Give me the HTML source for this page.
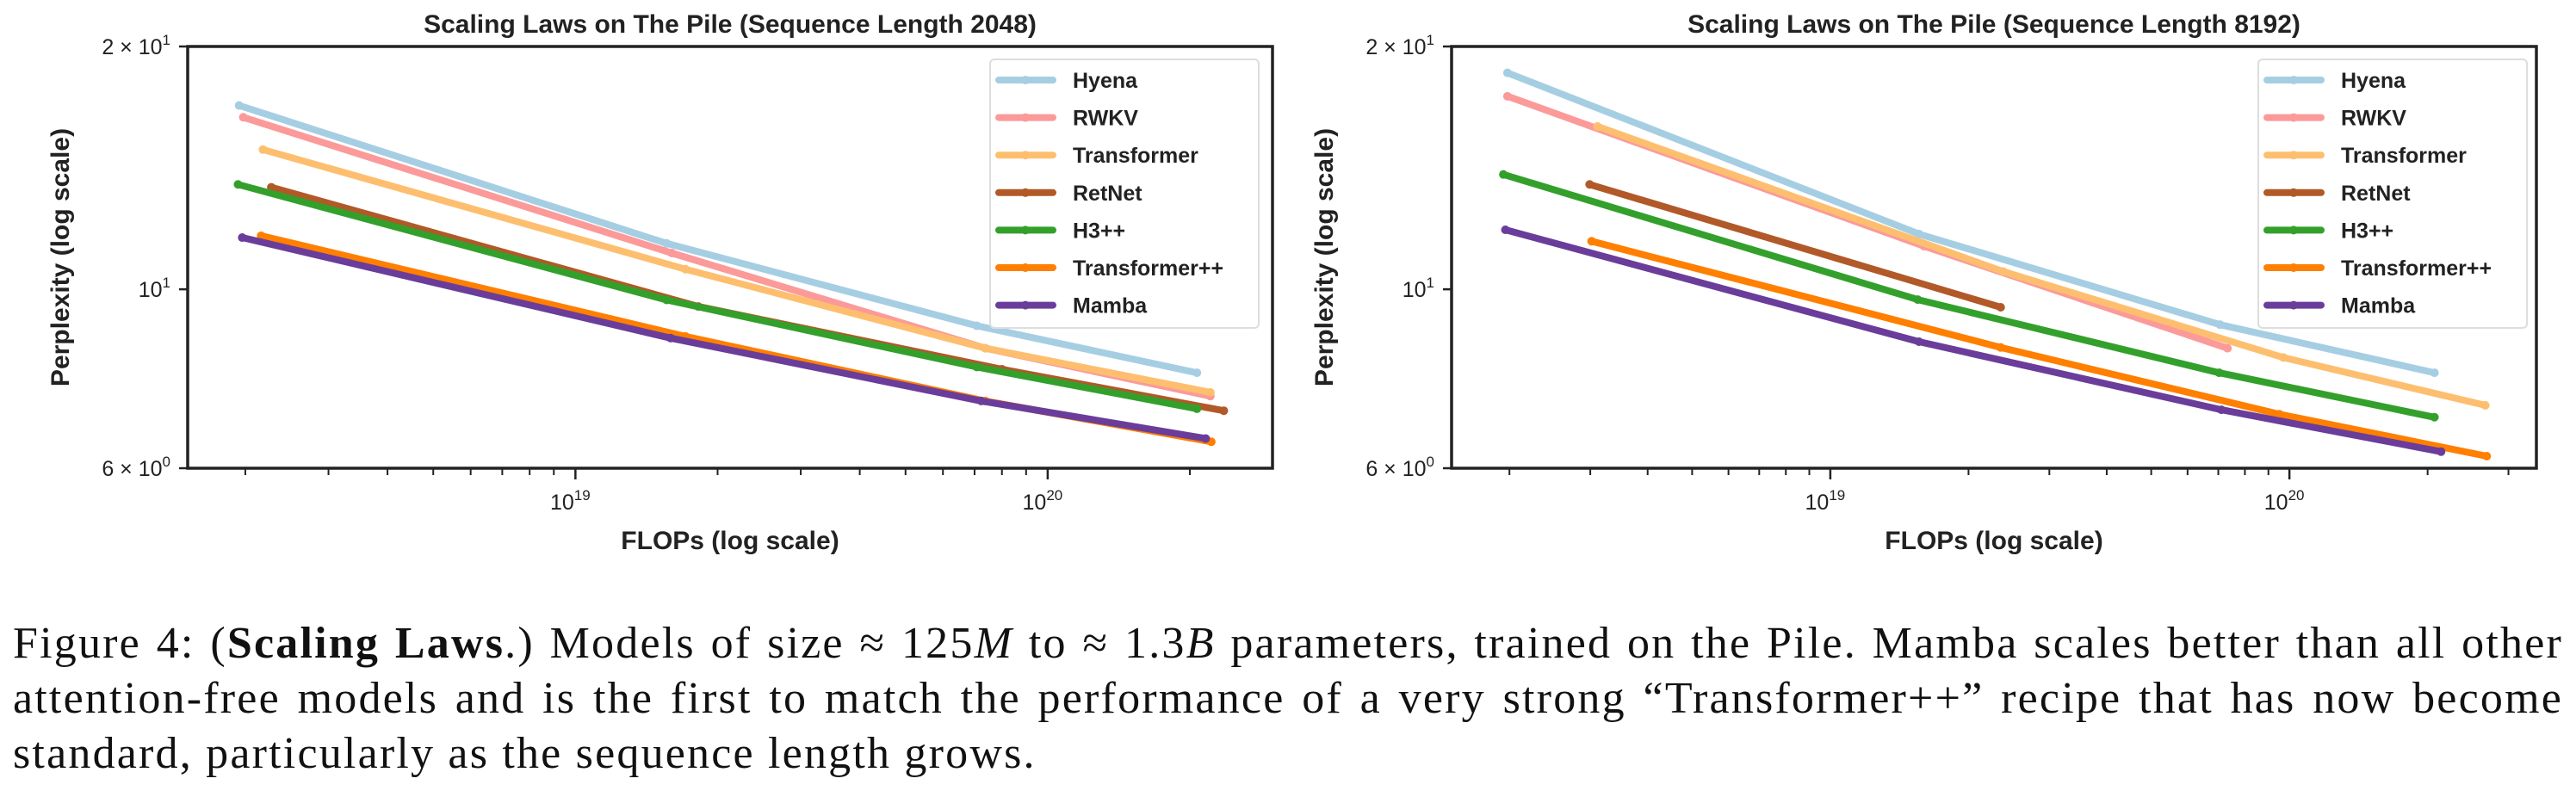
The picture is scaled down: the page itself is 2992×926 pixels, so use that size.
<!DOCTYPE html>
<html><head><meta charset="utf-8">
<style>
html,body{margin:0;padding:0;background:#fff;}
body{width:2992px;height:926px;position:relative;overflow:hidden;}
svg{position:absolute;left:0;top:0;}
#caption{position:absolute;left:15px;top:716px;width:2962px;font-family:"Liberation Serif",serif;font-size:52px;letter-spacing:2.2px;line-height:64px;color:#111;}
#caption span{display:block;white-space:nowrap;}
#caption span.j{text-align:justify;text-align-last:justify;white-space:normal;}
</style></head>
<body>
<svg id="fig" width="2992" height="700"></svg>
<div id="caption"><span class="j">Figure 4: (<b>Scaling Laws</b>.) Models of size ≈ 125<i>M</i> to ≈ 1.3<i>B</i> parameters, trained on the Pile. Mamba scales better than all other</span><span class="j">attention-free models and is the first to match the performance of a very strong “Transformer++” recipe that has now become</span><span>standard, particularly as the sequence length grows.</span></div>
<script>
// series names & colors
const seriesNames = ["Hyena","RWKV","Transformer","RetNet","H3++","Transformer++","Mamba"];
const seriesColors = ["#a6cee3","#fb9a99","#fdbf6f","#b15928","#33a02c","#ff7f00","#6a3d9a"];
// FLOPs in units of 1e18, perplexity values — Sequence Length 2048
const l_hyena_x=[1.94,15.6,70.8,207]; const l_hyena_y=[16.9,11.4,9.01,7.88];
const l_rwkv_x=[1.98,16.0,73.8,221]; const l_rwkv_y=[16.34,11.09,8.45,7.37];
const l_tr_x=[2.18,17.1,73.8,221]; const l_tr_y=[14.9,10.59,8.45,7.45];
const l_ret_x=[2.27,18.2,80.0,236]; const l_ret_y=[13.38,9.52,7.96,7.07];
const l_h3_x=[1.93,15.6,70.8,207]; const l_h3_y=[13.49,9.70,8.01,7.11];
const l_tpp_x=[2.16,17.1,73.8,222]; const l_tpp_y=[11.65,8.74,7.27,6.47];
const l_mamba_x=[1.97,15.9,72.3,216]; const l_mamba_y=[11.59,8.70,7.27,6.53];
// Sequence Length 8192
const r_hyena_x=[1.98,15.6,70.6,207]; const r_hyena_y=[18.55,11.71,9.04,7.88];
const r_rwkv_x=[1.98,16.0,73.3]; const r_rwkv_y=[17.35,11.31,8.45];
const r_tr_x=[3.11,23.8,97.0,267]; const r_tr_y=[15.92,10.52,8.23,7.18];
const r_ret_x=[2.99,23.5]; const r_ret_y=[13.49,9.50];
const r_h3_x=[1.94,15.5,70.3,207]; const r_h3_y=[13.88,9.71,7.88,6.94];
const r_tpp_x=[3.02,23.5,95.1,269]; const r_tpp_y=[11.47,8.47,7.00,6.21];
const r_mamba_x=[1.96,15.6,71.1,214]; const r_mamba_y=[11.85,8.61,7.09,6.29];
const yTickVals=[20,10,6];
const yTickLabels=["2 × 10","10","6 × 10"];
const yTickExps=["1","1","0"];
const xTickVals=[10,100];
const xTickExps=["19","20"];

const NS="http://www.w3.org/2000/svg";
const svg=document.getElementById('fig');
function mk(tag,attrs,parent){const e=document.createElementNS(NS,tag);for(const k in attrs)e.setAttribute(k,attrs[k]);(parent||svg).appendChild(e);return e;}

function drawPanel(p){
  const g=mk('g',{});
  
  
  const L=p.left,R=p.right,T=54,B=544;
  const lx0=p.lx0,lx1=p.lx1,ly0=Math.log10(6),ly1=Math.log10(20);
  const X=v=>L+(Math.log10(v*1e18)-lx0)/(lx1-lx0)*(R-L);
  const Y=v=>B-(Math.log10(v)-ly0)/(ly1-ly0)*(B-T);
  const t=mk('text',{x:(L+R)/2,y:38,'text-anchor':'middle','font-family':'Liberation Sans, sans-serif','font-size':30,'font-weight':'bold',fill:'#222'},g);
  t.textContent=p.title;
  
  
  p.series.forEach((s,i)=>{
    const pts=s.x.map((v,j)=>X(v).toFixed(1)+','+Y(s.y[j]).toFixed(1)).join(' ');
    const pl=mk('polyline',{points:pts,fill:'none',stroke:seriesColors[i],'stroke-width':8,'stroke-linejoin':'round','stroke-linecap':'round'},g);
    
    
    s.x.forEach((v,j)=>{
      const c=mk('circle',{cx:X(v),cy:Y(s.y[j]),r:5,fill:seriesColors[i]},g);
      
      
    });
  });
  const fr=mk('rect',{x:L,y:T,width:R-L,height:B-T,fill:'none',stroke:'#222','stroke-width':3.5},g);
  
  
  for(let e=Math.floor(lx0);e<=Math.ceil(lx1);e++){
    for(let m=1;m<10;m++){
      const lv=e+Math.log10(m); if(lv<lx0||lv>lx1)continue;
      const px=L+(lv-lx0)/(lx1-lx0)*(R-L);
      mk('line',{x1:px,x2:px,y1:B,y2:B+(m===1?13:8),stroke:'#222','stroke-width':m===1?2.5:2},g);
    }
  }
  xTickVals.forEach((v,i)=>{
    const tx=mk('text',{x:X(v)-6,y:B+48,'text-anchor':'middle','font-family':'Liberation Sans, sans-serif','font-size':25,fill:'#222'},g);
    tx.textContent='10';
    const ts=mk('tspan',{dy:-11,'font-size':17},tx); ts.textContent=xTickExps[i];
    
    
  });
  yTickVals.forEach((v,i)=>{
    mk('line',{x1:L-10,x2:L,y1:Y(v),y2:Y(v),stroke:'#222','stroke-width':2.5},g);
    const tx=mk('text',{x:L-20,y:Y(v)+9,'text-anchor':'end','font-family':'Liberation Sans, sans-serif','font-size':25,fill:'#222'},g);
    tx.textContent=yTickLabels[i];
    const ts=mk('tspan',{dy:-11,'font-size':17},tx); ts.textContent=yTickExps[i];
    
    
  });
  const xl=mk('text',{x:(L+R)/2,y:638,'text-anchor':'middle','font-family':'Liberation Sans, sans-serif','font-size':30,'font-weight':'bold',fill:'#222'},g);
  xl.textContent='FLOPs (log scale)';
  
  
  const yl=mk('text',{x:0,y:0,transform:`translate(${p.ylx},${(T+B)/2}) rotate(-90)`,'text-anchor':'middle','font-family':'Liberation Sans, sans-serif','font-size':30,'font-weight':'bold',fill:'#222'},g);
  yl.textContent='Perplexity (log scale)';
  
  
  const lg=mk('g',{},g);
  
  
  mk('rect',{x:p.legX,y:69,width:312,height:312,rx:5,fill:'#fff','fill-opacity':0.85,stroke:'#ddd','stroke-width':2},lg);
  seriesNames.forEach((n,i)=>{
    const yy=93+i*43.6;
    const e=mk('g',{},lg);
    
    
    mk('line',{x1:p.legX+10,x2:p.legX+73,y1:yy,y2:yy,stroke:seriesColors[i],'stroke-width':8,'stroke-linecap':'round'},e);
    mk('circle',{cx:p.legX+41,cy:yy,r:5,fill:seriesColors[i]},e);
    const tx=mk('text',{x:p.legX+96,y:yy+9,'font-family':'Liberation Sans, sans-serif','font-size':25,'font-weight':'bold',fill:'#222'},e);
    tx.textContent=n;
  });
}
drawPanel({id:'chart-seq-2048',title:'Scaling Laws on The Pile (Sequence Length 2048)',left:218,right:1478,lx0:18.179,lx1:20.476,ylx:80,legX:1150,
  series:[{x:l_hyena_x,y:l_hyena_y},{x:l_rwkv_x,y:l_rwkv_y},{x:l_tr_x,y:l_tr_y},{x:l_ret_x,y:l_ret_y},{x:l_h3_x,y:l_h3_y},{x:l_tpp_x,y:l_tpp_y},{x:l_mamba_x,y:l_mamba_y}]});
drawPanel({id:'chart-seq-8192',title:'Scaling Laws on The Pile (Sequence Length 8192)',left:1686,right:2946,lx0:18.175,lx1:20.538,ylx:1548,legX:2623,
  series:[{x:r_hyena_x,y:r_hyena_y},{x:r_rwkv_x,y:r_rwkv_y},{x:r_tr_x,y:r_tr_y},{x:r_ret_x,y:r_ret_y},{x:r_h3_x,y:r_h3_y},{x:r_tpp_x,y:r_tpp_y},{x:r_mamba_x,y:r_mamba_y}]});
</script>
</body></html>
